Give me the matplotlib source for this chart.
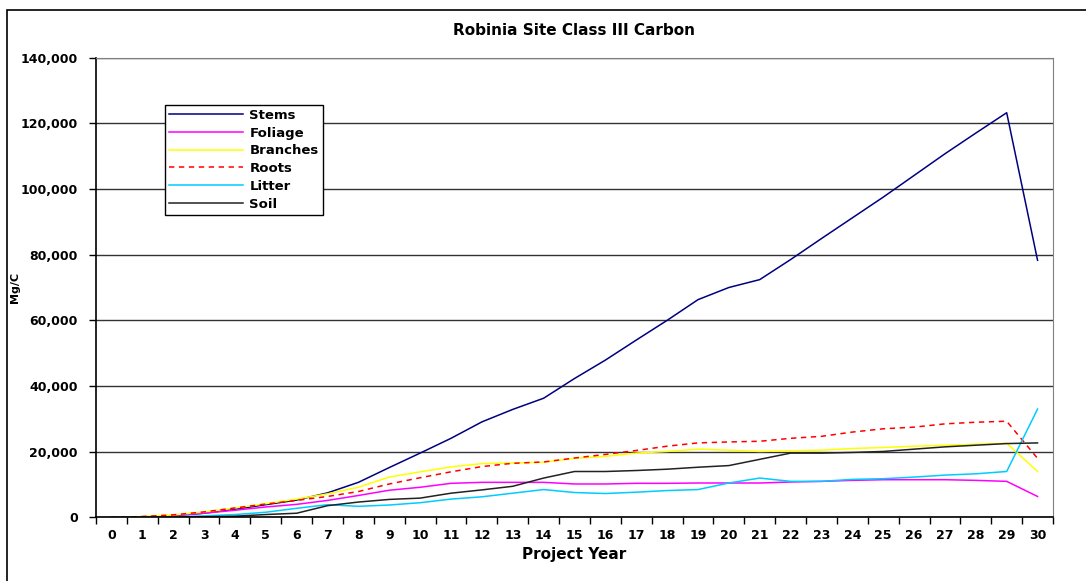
import numpy as np
import matplotlib
matplotlib.use("Agg")
import matplotlib.pyplot as plt
from matplotlib.patches import Rectangle
from matplotlib.ticker import FuncFormatter, MultipleLocator

# Data (Mg/C per project year)
years = list(range(31))
stems = [0, 0, 500, 1300, 2500, 3900, 5300, 7500, 10700, 15200, 19600, 24100,
         29100, 32900, 36300, 42300, 47900, 54000, 60000, 66300, 70000, 72400,
         78500, 84900, 91200, 97500, 104100, 110700, 117000, 123200, 78300]
foliage = [0, 200, 600, 1300, 2200, 3200, 4000, 5200, 6700, 8300, 9200, 10400,
           10700, 10700, 10700, 10200, 10200, 10400, 10400, 10500, 10500, 10500,
           10800, 11000, 11300, 11500, 11500, 11500, 11300, 11000, 6400]
branches = [0, 300, 800, 1700, 2900, 4200, 5600, 7200, 9200, 12300, 13900, 15400,
            16400, 16600, 16800, 18000, 18600, 19600, 20100, 20800, 20500, 20100,
            20300, 20500, 21000, 21300, 21700, 22000, 22300, 22600, 14000]
roots = [0, 300, 800, 1700, 2900, 4100, 5200, 6400, 7900, 10200, 12100, 13900,
         15500, 16500, 16900, 18100, 19200, 20400, 21700, 22700, 23000, 23200,
         24100, 24700, 26000, 27000, 27500, 28500, 29000, 29300, 18000]
litter = [0, 0, 200, 500, 900, 1600, 2800, 3900, 3400, 3800, 4500, 5600,
          6300, 7400, 8500, 7600, 7300, 7700, 8200, 8500, 10500, 12000,
          11000, 11000, 11600, 11800, 12300, 12900, 13300, 14000, 33000]
soil = [0, 0, 0, 200, 400, 900, 1300, 3600, 4700, 5500, 5900, 7400,
        8400, 9500, 12000, 14000, 14000, 14300, 14700, 15300, 15800, 17700,
        19600, 19600, 19800, 20100, 20800, 21500, 22000, 22500, 22700]

plt.rcParams['font.family'] = ['DejaVu Sans']
plt.rcParams['font.weight'] = 'bold'

fig = plt.figure(figsize=(10.86, 5.81), dpi=100)
ax = fig.add_axes([0.0884, 0.1093, 0.8812, 0.7917])

# outer chart frame
fig.add_artist(Rectangle((7 / 1086, -0.05), 1.1, 1 - 10 / 581 + 0.05,
                         transform=fig.transFigure, fill=False,
                         edgecolor='black', linewidth=1.2))

lw = 1.1
ax.plot(years, stems, color='#000080', lw=lw, label='Stems')
ax.plot(years, foliage, color='#FF00FF', lw=lw, label='Foliage')
ax.plot(years, branches, color='#FFFF00', lw=lw, label='Branches')
ax.plot(years, roots, color='#FF0000', lw=lw, ls=(0, (3.5, 3)), label='Roots')
ax.plot(years, litter, color='#00CCFF', lw=lw, label='Litter')
ax.plot(years, soil, color='#222222', lw=lw, label='Soil')

ax.set_xlim(-0.5, 30.5)
ax.set_ylim(0, 140000)
ax.yaxis.set_major_locator(MultipleLocator(20000))
ax.yaxis.set_major_formatter(FuncFormatter(lambda v, p: f"{int(v):,}"))
ax.set_xticks(years)
ax.set_xticks(np.arange(-0.5, 31, 1), minor=True)
ax.tick_params(axis='x', which='major', length=0, pad=8, labelsize=9)
ax.tick_params(axis='x', which='minor', length=5, width=1, direction='out')
ax.tick_params(axis='y', length=5, width=1, direction='out', labelsize=9, pad=8)

ax.grid(axis='y', color='#333333', lw=1)
ax.set_axisbelow(True)
for s in ['top', 'right']:
    ax.spines[s].set_color('#808080')
for s in ['left', 'bottom']:
    ax.spines[s].set_color('black')
    ax.spines[s].set_linewidth(1.2)

ax.set_title('Robinia Site Class III Carbon', fontsize=11, fontweight='bold', pad=16)
ax.set_xlabel('Project Year', fontsize=11, fontweight='bold', labelpad=4)
ax.set_ylabel('Mg/C', fontsize=8, fontweight='bold')
ax.yaxis.set_label_coords(-0.079, 0.5)

leg = ax.legend(loc='upper left', bbox_to_anchor=(0.072, 0.897), borderaxespad=0,
                fancybox=False, edgecolor='black', framealpha=1, fontsize=9.5,
                handlelength=5.6, labelspacing=0.36, borderpad=0.3, handletextpad=0.5)
leg.get_frame().set_linewidth(1)

fig.savefig('out.png', dpi=100)
